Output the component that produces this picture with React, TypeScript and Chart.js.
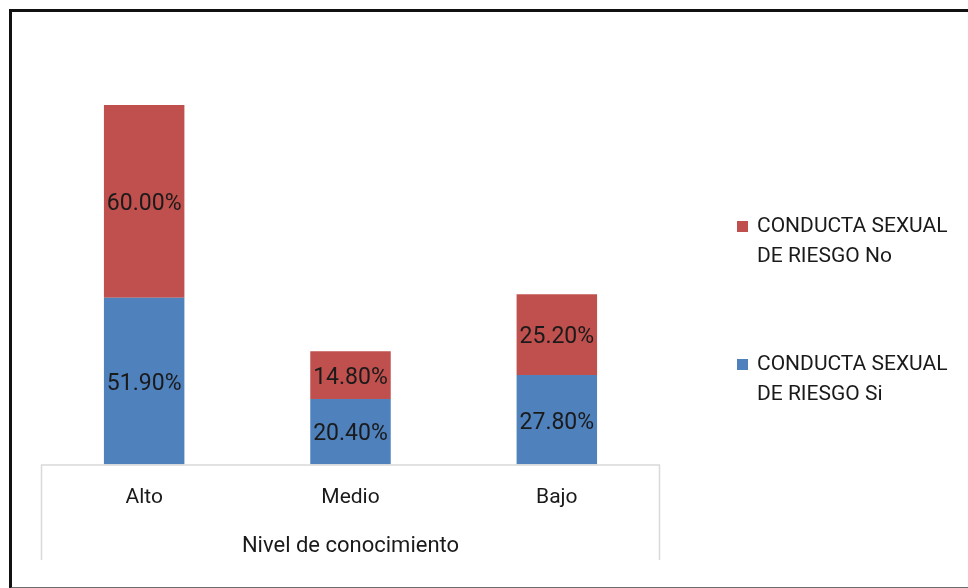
import React, { useEffect, useRef } from "react";
import { Chart, registerables } from "chart.js";

Chart.register(...registerables);

const categories = ["Alto", "Medio", "Bajo"];
const siValues = [51.9, 20.4, 27.8];
const noValues = [60.0, 14.8, 25.2];
const seriesSiLabel = ["CONDUCTA SEXUAL", "DE RIESGO Si"];
const seriesNoLabel = ["CONDUCTA SEXUAL", "DE RIESGO No"];
const axisTitle = "Nivel de conocimiento";
const yMax = 120;

const RED = "#C0504D";
const BLUE = "#4F81BD";
const FONT = "Roboto, 'Noto Sans', sans-serif";

export default function App() {
  const canvasRef = useRef<HTMLCanvasElement | null>(null);

  useEffect(() => {
    const canvas = canvasRef.current;
    if (!canvas) return;

    const dataLabelPlugin = {
      id: "dataLabels",
      afterDatasetsDraw(chart: any) {
        const ctx = chart.ctx;
        ctx.save();
        ctx.font = `23px ${FONT}`;
        ctx.fillStyle = "#1a1a1a";
        ctx.textAlign = "center";
        ctx.textBaseline = "middle";
        chart.data.datasets.forEach((ds: any, di: number) => {
          const meta = chart.getDatasetMeta(di);
          meta.data.forEach((el: any, i: number) => {
            const v = ds.data[i];
            const cy = (el.y + el.base) / 2;
            ctx.fillText(v.toFixed(2) + "%", el.x, cy + 3);
          });
        });
        ctx.restore();
      },
    };

    const framePlugin = {
      id: "axisFrame",
      afterDraw(chart: any) {
        const ctx = chart.ctx;
        const a = chart.chartArea;
        const xs = chart.scales.x;
        ctx.save();
        ctx.strokeStyle = "#d9d9d9";
        ctx.lineWidth = 1.5;
        ctx.beginPath();
        ctx.moveTo(a.left, a.bottom + 0.5);
        ctx.lineTo(a.right, a.bottom + 0.5);
        ctx.moveTo(a.left + 0.5, a.bottom);
        ctx.lineTo(a.left + 0.5, xs.bottom);
        ctx.moveTo(a.right - 0.5, a.bottom);
        ctx.lineTo(a.right - 0.5, xs.bottom);
        ctx.stroke();

        // legend
        const items = [
          { color: RED, lines: seriesNoLabel, y: 227 },
          { color: BLUE, lines: seriesSiLabel, y: 365 },
        ];
        ctx.font = `21px ${FONT}`;
        ctx.textAlign = "left";
        ctx.textBaseline = "middle";
        items.forEach((it) => {
          ctx.fillStyle = it.color;
          ctx.fillRect(737, it.y - 6, 11, 11);
          ctx.fillStyle = "#1a1a1a";
          it.lines.forEach((ln, k) => {
            ctx.fillText(ln, 757, it.y + k * 30);
          });
        });
        ctx.restore();
      },
    };

    const chart = new Chart(canvas, {
      type: "bar",
      data: {
        labels: categories,
        datasets: [
          {
            label: seriesSiLabel.join(" "),
            data: siValues,
            backgroundColor: BLUE,
            borderWidth: 0,
            barPercentage: 0.39,
            categoryPercentage: 1,
          },
          {
            label: seriesNoLabel.join(" "),
            data: noValues,
            backgroundColor: RED,
            borderWidth: 0,
            barPercentage: 0.39,
            categoryPercentage: 1,
          },
        ],
      },
      options: {
        responsive: false,
        animation: false,
        devicePixelRatio: 1,
        layout: { padding: { left: 41, right: 308, top: 79, bottom: 28 } },
        plugins: {
          legend: { display: false },
          tooltip: { enabled: false },
          title: { display: false },
        },
        scales: {
          x: {
            stacked: true,
            grid: { display: false, drawTicks: false },
            border: { display: false },
            ticks: {
              padding: 21,
              color: "#1a1a1a",
              font: { family: FONT, size: 21 },
            },
            title: {
              display: true,
              text: axisTitle,
              color: "#1a1a1a",
              font: { family: FONT, size: 22 },
              padding: { top: 2, bottom: 0 },
            },
          },
          y: {
            stacked: true,
            display: false,
            min: 0,
            max: yMax,
          },
        },
      },
      plugins: [dataLabelPlugin, framePlugin],
    });

    return () => chart.destroy();
  }, []);

  return (
    <div
      style={{
        position: "fixed",
        left: 0,
        top: 0,
        width: 968,
        height: 588,
        background: "#fff",
        overflow: "hidden",
      }}
    >
      <canvas
        ref={canvasRef}
        width={968}
        height={588}
        style={{ position: "absolute", left: 0, top: 0, width: 968, height: 588 }}
      />
      <div
        style={{
          position: "absolute",
          left: 9,
          top: 9,
          width: 1000,
          height: 580,
          boxSizing: "border-box",
          borderTop: "3px solid #111",
          borderLeft: "3px solid #111",
          borderBottom: "2px solid #6d6d6d",
          pointerEvents: "none",
        }}
      />
    </div>
  );
}
